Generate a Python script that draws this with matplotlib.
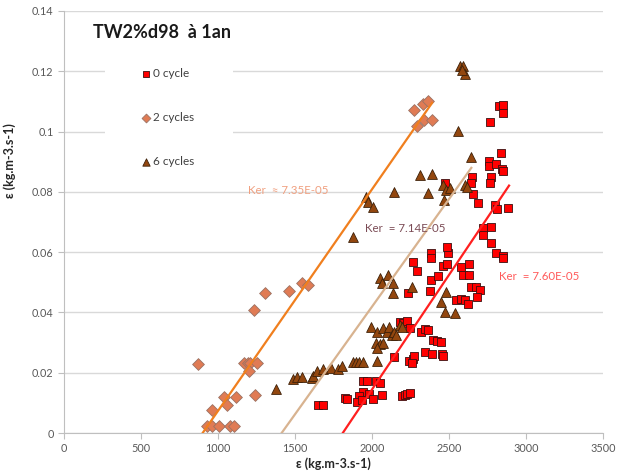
import matplotlib
matplotlib.use("Agg")
import matplotlib.pyplot as plt
from matplotlib.patches import Rectangle
from matplotlib.ticker import FuncFormatter, MultipleLocator

plt.rcParams["font.family"] = ["Lato", "DejaVu Sans"]

# 0 cycle (red squares)
x_c0 = [1651, 1680, 1825, 1840, 1940, 1966, 1940, 1918, 1905, 1933, 1983, 2004,
        2026, 2052, 2067, 2193, 2214, 2229, 2247,
        2143, 2242, 2264, 2273, 2258,
        2182, 2203, 2229, 2247,
        2316, 2344, 2366, 2394, 2420, 2446, 2344, 2392, 2453, 2463,
        2236, 2377,
        2268, 2294, 2381, 2381, 2496, 2485, 2463, 2489, 2576, 2630, 2589, 2630,
        2381, 2430,
        2641, 2675, 2701, 2684, 2545, 2578, 2604, 2626,
        2805, 2849, 2853,
        2723, 2773, 2723, 2773,
        2690, 2799, 2813, 2885,
        2654, 2647, 2641, 2771, 2766, 2474,
        2760, 2760, 2805, 2842, 2853, 2836,
        2766, 2827, 2853, 2849]
y_c0 = [0.0093, 0.0093, 0.0117, 0.0114, 0.0174, 0.0174, 0.0137, 0.0123, 0.0104, 0.0110, 0.0129, 0.0114,
        0.0174, 0.0165, 0.0126, 0.0123, 0.0126, 0.0128, 0.0134,
        0.0251, 0.0240, 0.0244, 0.0255, 0.0233,
        0.0369, 0.0364, 0.0373, 0.0347,
        0.0336, 0.0344, 0.0342, 0.0310, 0.0305, 0.0303, 0.0270, 0.0262, 0.0262, 0.0255,
        0.0463, 0.0472,
        0.0568, 0.0538, 0.0598, 0.0580, 0.0598, 0.0618, 0.0554, 0.0561, 0.0550, 0.0561, 0.0524, 0.0524,
        0.0508, 0.0521,
        0.0485, 0.0483, 0.0474, 0.0452, 0.0441, 0.0443, 0.0441, 0.0428,
        0.0596, 0.0587, 0.0580,
        0.0679, 0.0684, 0.0657, 0.0629,
        0.0762, 0.0756, 0.0742, 0.0748,
        0.0793, 0.0850, 0.0830, 0.0850, 0.0830, 0.0830,
        0.0903, 0.0886, 0.0892, 0.0875, 0.0870, 0.0930,
        0.1031, 0.1085, 0.1088, 0.1060]

# 2 cycles (diamonds)
x_c2 = [868, 926, 963, 1006, 1078, 1106, 959, 1039, 1061, 1115, 1240,
        1171, 1193, 1208, 1251, 1201, 1236, 1305, 1463, 1543, 1587,
        2273, 2333, 2366, 2338, 2392, 2294]
y_c2 = [0.0228, 0.0023, 0.0023, 0.0023, 0.0023, 0.0023, 0.0076, 0.0118, 0.0093, 0.0118, 0.0126,
        0.0231, 0.0231, 0.0231, 0.0231, 0.0206, 0.0408, 0.0463, 0.0472, 0.0499, 0.0491,
        0.1070, 0.1092, 0.1100, 0.1040, 0.1040, 0.1020]

# 6 cycles (triangles)
x_c6 = [1377, 1489, 1511, 1547, 1608, 1619, 1641, 1680, 1732, 1781, 1803,
        1879, 1896, 1918, 1940, 2030,
        2026, 2052, 2069, 2030,
        1991, 2035, 2074, 2095, 2113, 2128, 2143, 2156, 2182, 2195,
        2052, 2063, 2106, 2138, 2138, 2258,
        2481, 2448, 2474, 2539,
        1879, 1961, 1976, 2008, 2145, 2312, 2392, 2366, 2463, 2481, 2506, 2468,
        2604, 2615, 2561, 2641, 2571, 2593, 2604, 2585]
y_c6 = [0.0145, 0.0178, 0.0187, 0.0185, 0.0181, 0.0189, 0.0207, 0.0211, 0.0217, 0.0211, 0.0222,
        0.0237, 0.0237, 0.0237, 0.0237, 0.0239,
        0.0300, 0.0295, 0.0300, 0.0281,
        0.0351, 0.0336, 0.0347, 0.0336, 0.0353, 0.0325, 0.0336, 0.0325, 0.0358, 0.0352,
        0.0513, 0.0497, 0.0524, 0.0497, 0.0463, 0.0485,
        0.0469, 0.0436, 0.0402, 0.0397,
        0.0649, 0.0784, 0.0767, 0.0751, 0.0800, 0.0856, 0.0859, 0.0795, 0.0823, 0.0806, 0.0812, 0.0773,
        0.0823, 0.0817, 0.1003, 0.0917, 0.1218, 0.1218, 0.1191, 0.1205]

# fitted lines: eps = Ker * (x - x_start), drawn from x_start to x_end
fit_ker = [7.60e-5, 7.35e-5, 7.14e-5]
fit_x_start = [1810, 900, 1413]
fit_x_end = [2890, 2390, 2645]
fit_labels = ["Ker  = 7.60E-05", "Ker  \u2248 7.35E-05", "Ker  = 7.14E-05"]
fit_label_pos = [(2825, 0.0518), (1195, 0.0806), (1955, 0.068)]

fig = plt.figure(figsize=(6.18, 4.76), dpi=100)
ax = fig.add_axes([0.1036, 0.0903, 0.8721, 0.8866])

ax.scatter(x_c0, y_c0, marker="s", s=32, facecolor="#ff0000", edgecolor="#3a1010",
           linewidth=0.6, zorder=3, label="0 cycle")
ax.scatter(x_c2, y_c2, marker="D", s=36, facecolor="#e07b54", edgecolor="#9a7264",
           linewidth=0.6, zorder=3, label="2 cycles")
ax.scatter(x_c6, y_c6, marker="^", s=50, facecolor="#93470f", edgecolor="#3d2008",
           linewidth=0.6, zorder=3, label="6 cycles")

line_colors = ["#ff1f1f", "#f07f1e", "#d8b390"]
text_colors = ["#ff5a5a", "#f0a080", "#7b4b55"]
for ker, x0, x1, col, lab, pos, tcol in zip(fit_ker, fit_x_start, fit_x_end,
                                             line_colors, fit_labels, fit_label_pos, text_colors):
    ax.plot([x0, x1], [0, ker * (x1 - x0)], color=col, lw=1.6, zorder=4)
    ax.text(pos[0], pos[1], lab, color=tcol, fontsize=8.3, va="center", ha="left", zorder=5)

ax.set_xlim(0, 3500)
ax.set_ylim(0, 0.14)
ax.xaxis.set_major_locator(MultipleLocator(500))
ax.yaxis.set_major_locator(MultipleLocator(0.02))
ax.yaxis.set_major_formatter(FuncFormatter(lambda v, p: "0" if abs(v) < 1e-12 else f"{v:g}"))
ax.grid(axis="y", color="#d9d9d9", lw=1, zorder=0)
ax.set_axisbelow(True)
for side in ["top", "right"]:
    ax.spines[side].set_visible(False)
for side in ["left", "bottom"]:
    ax.spines[side].set_color("#bfbfbf")
ax.tick_params(colors="#bfbfbf", labelcolor="#595959", labelsize=7.8, length=4, width=0.8)

ax.set_xlabel("\u03b5 (kg.m-3.s-1)", fontsize=9, fontweight="bold", color="#262626", labelpad=2)
ax.set_ylabel("\u03b5 (kg.m-3.s-1)", fontsize=9, fontweight="bold", color="#262626")
ax.yaxis.set_label_coords(-0.09, 0.645)

ax.text(0.054, 0.95, "TW2%d98  \u00e0 1an", transform=ax.transAxes, fontsize=13,
        fontweight="bold", color="#1a1a1a", va="center", ha="left", zorder=6)

# white legend area hiding the gridlines
ax.add_patch(Rectangle((0.076, 0.60), 0.2375, 0.308, transform=ax.transAxes,
                       facecolor="white", edgecolor="none", zorder=1))
leg = ax.legend(loc="upper left", bbox_to_anchor=(0.145, 0.864), frameon=False,
                fontsize=8.5, handlelength=0.6, handletextpad=0.35, labelspacing=2.78,
                borderpad=0, borderaxespad=0, scatterpoints=1, markerscale=0.75)
for t in leg.get_texts():
    t.set_color("#404040")

fig.savefig("out.png", dpi=100)
